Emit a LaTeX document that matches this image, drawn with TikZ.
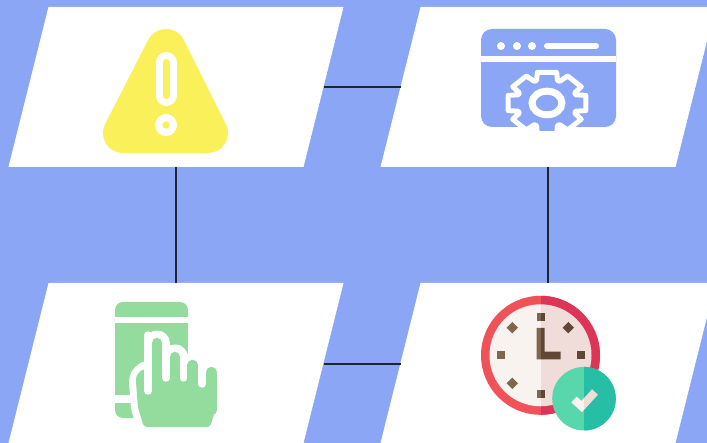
\documentclass[tikz,border=0pt]{standalone}
\usepackage{xcolor}
\usetikzlibrary{positioning}
\definecolor{bgblue}{HTML}{8AA6F4}
\definecolor{warnyellow}{HTML}{FAF05A}
\definecolor{touchgreen}{HTML}{94DC9E}
\definecolor{linkdark}{HTML}{1E2430}
\definecolor{ringl}{HTML}{F0525A}
\definecolor{ringr}{HTML}{DC3558}
\definecolor{facel}{HTML}{F8F3EF}
\definecolor{facer}{HTML}{F0DDD9}
\definecolor{markl}{HTML}{80664F}
\definecolor{markr}{HTML}{5F4636}
\definecolor{badgel}{HTML}{58D6AC}
\definecolor{badger}{HTML}{26BFA6}
\begin{document}
\begin{tikzpicture}[
    x=1pt, y=-1pt,
    card/.style={rectangle, xslant=0.25, transform shape, fill=white, minimum width=295pt, minimum height=160pt, inner sep=0pt, outer sep=0pt},
    link/.style={draw=linkdark, line width=2pt},
    gapline/.style={white, line width=7.5pt, line cap=round},
]
\useasboundingbox (0,0) rectangle (707,443);
\fill[bgblue] (0,0) rectangle (707,443);
% Cards
\node[card] (warn) at (176,87) {};
\node[card, right=77pt of warn] (config) {};
\node[card, below=116pt of warn, xshift=40pt] (touch) {};
\node[card, below=116pt of config, xshift=40pt] (clock) {};
% Connectors
\draw[link] (warn.east) -- (config.west);
\draw[link] ([yshift=-1pt]touch.east) -- ([yshift=-1pt]clock.west);
\draw[link] (warn.center |- warn.south) -- (touch.center |- touch.north);
\draw[link] (config.center |- config.south) -- (clock.center |- clock.north);
% Warning sign
\draw[warnyellow, fill=warnyellow, line width=40pt, line join=round] (166,49) -- (123,133) -- (208,133) -- cycle;
\draw[white, line width=21pt, line cap=round] (166,62.5) -- (166,95.5);
\draw[warnyellow, line width=7pt, line cap=round] (166,62.5) -- (166,95.5);
\fill[white] (166,125) circle (11);
\fill[warnyellow] (166,125) circle (3.7);
% Browser window with gear
\fill[bgblue, rounded corners=11pt] (481,70) -- (481,29) -- (616,29) -- (616,70) -- cycle;
\fill[bgblue, rounded corners=11pt] (481,45) -- (481,127) -- (616,127) -- (616,45) -- cycle;
\fill[white] (481,56) rectangle (616,62);
\foreach \dotx in {501,517,532}
    \fill[white] (\dotx,46) circle (4);
\draw[white, line width=6pt, line cap=round] (547,46) -- (596,46);
\begin{scope}[shift={(547,103)}, xscale=1.27]
    \draw[white, fill=bgblue, line width=5pt, line join=round] (-20:24)
        \foreach \toothangle in {0,45,...,315} {
            -- (\toothangle-20:24) -- (\toothangle-14:31.5) -- (\toothangle+14:31.5) -- (\toothangle+20:24)
        } -- cycle;
    \draw[white, line width=7pt] (0,0) circle (11.8);
\end{scope}
% Phone and hand
\fill[touchgreen, rounded corners=8pt] (115,330) -- (115,302) -- (188,302) -- (188,330) -- cycle;
\fill[touchgreen] (115,323) rectangle (188,395);
\fill[white] (115,317) rectangle (188,323);
\fill[touchgreen, rounded corners=8pt] (115,395) -- (115,418) -- (145,418) -- (145,395) -- cycle;
\fill[white] (115,395) rectangle (145,403);
\foreach \fingerx/\fingertop in {157/343, 175/357, 192.5/365, 211.5/372} {
    \draw[white, line width=25pt, line cap=round] (\fingerx,\fingertop) -- (\fingerx,410);
}
\draw[white, fill=white, line width=14pt, line join=round] (144,369) .. controls (139,372) and (136,376) .. (136,382)
    -- (138,408) -- (144,427) -- (210,427) -- (217,405) -- (217,380) -- cycle;
\foreach \fingerx/\fingertop in {157/343, 175/357, 192.5/365, 211.5/372} {
    \draw[touchgreen, line width=10.5pt, line cap=round] (\fingerx,\fingertop) -- (\fingerx,410);
}
\fill[touchgreen, rounded corners=3pt] (144,369) .. controls (139,372) and (136,376) .. (136,382)
    -- (138,408) -- (144,427) -- (210,427) -- (217,405) -- (217,376) -- (152,376) -- (152,369) -- cycle;
\foreach \gapx/\gaptop/\gapend in {148/335/391, 166/345/378, 183.5/358/378, 202/366/384} {
    \draw[gapline] (\gapx,\gaptop) -- (\gapx,\gapend);
}
% Clock, second pass paints the right half
\foreach \clipx/\ringcol/\facecol/\markcol in {400/ringl/facel/markl, 541/ringr/facer/markr} {
    \begin{scope}
        \clip (\clipx,280) rectangle (707,443);
        \fill[\ringcol] (540.5,355.3) circle (59.5);
        \fill[\facecol] (540.5,355.3) circle (51);
        \foreach \markx/\marky in {540.5/317, 540.5/394, 501/355.5, 581/355.5}
            \fill[\markcol] (\markx-4,\marky-4) rectangle (\markx+4,\marky+4);
        \foreach \markx/\marky in {512.3/327.7, 568.3/327.7, 512.3/383.3}
            \fill[\markcol] (\markx-5.7,\marky) -- (\markx,\marky-5.7) -- (\markx+5.7,\marky) -- (\markx,\marky+5.7) -- cycle;
        \fill[\markcol] (536.7,328) -- (544.7,328) -- (544.7,351.7) -- (560.7,351.7) -- (560.7,359.3) -- (536.7,359.3) -- cycle;
    \end{scope}
}
% Check badge
\foreach \clipx/\badgecol/\tickcol in {400/badgel/facel, 584/badger/facer} {
    \begin{scope}
        \clip (\clipx,280) rectangle (707,443);
        \fill[\badgecol] (584,398.7) circle (31.8);
        \draw[\tickcol, line width=8pt] (574,399.5) -- (581.7,406.5) -- (595,392);
    \end{scope}
}
\end{tikzpicture}
\end{document}
